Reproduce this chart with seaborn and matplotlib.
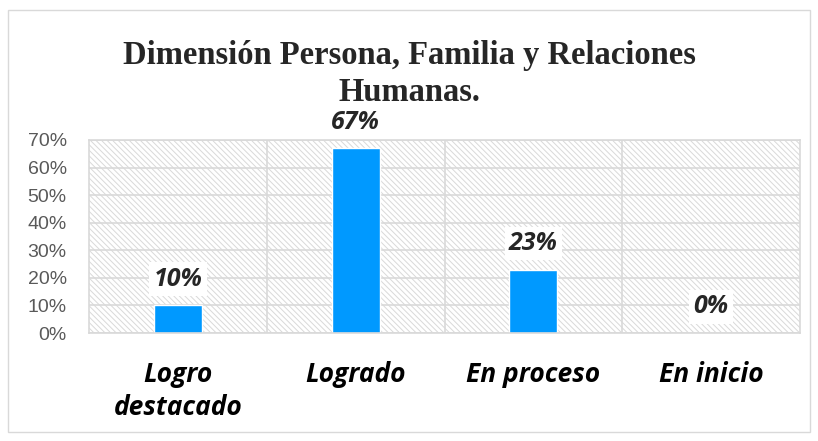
import matplotlib
matplotlib.use("Agg")
import matplotlib.pyplot as plt
import seaborn as sns
import pandas as pd
from matplotlib.patches import Rectangle

categories = ["Logro\ndestacado", "Logrado", "En proceso", "En inicio"]
values = [0.10, 0.67, 0.23, 0.00]
labels = ["10%", "67%", "23%", "0%"]
yticks = [0, 0.1, 0.2, 0.3, 0.4, 0.5, 0.6, 0.7]
ytick_labels = ["0%", "10%", "20%", "30%", "40%", "50%", "60%", "70%"]
title = "Dimensión Persona, Familia y Relaciones\nHumanas."

sns.set_theme(style="white")
plt.rcParams["hatch.color"] = "#d9d9d9"
plt.rcParams["hatch.linewidth"] = 0.7

df = pd.DataFrame({"cat": categories, "val": values})

fig = plt.figure(figsize=(8.18, 4.41), dpi=100)
fig.patches.append(Rectangle((8/818, 1-432/441), 802/818, 422/441, transform=fig.transFigure,
                             fill=False, edgecolor="#d9d9d9", linewidth=1.0))
ax = fig.add_axes([89/818, 1-333/441, 711/818, 193/441])
ax.patch.set_facecolor("white")
ax.patch.set_hatch("\\\\\\\\\\\\")
ax.patch.set_edgecolor("#d9d9d9")

sns.barplot(data=df, x="cat", y="val", color="#0099ff", width=0.27, ax=ax, saturation=1)
ax.set_ylim(0, 0.7)
ax.set_xlim(-0.5, 3.5)
ax.set_yticks(yticks)
ax.set_yticklabels(ytick_labels, fontsize=14, color="#595959", family="Liberation Sans")
ax.set_xticks(range(len(categories)))
ax.set_xticklabels(categories, fontsize=19, fontweight="bold", fontstyle="italic",
                   family="Open Sans", linespacing=1.3, color="black")
ax.tick_params(axis="x", length=0, pad=20)
ax.tick_params(axis="y", length=0, pad=16)
ax.set_xlabel("")
ax.set_ylabel("")
for y in yticks:
    ax.axhline(y, color="#d9d9d9", linewidth=1.2, zorder=0.5)
for x in [0.5, 1.5, 2.5]:
    ax.axvline(x, color="#d9d9d9", linewidth=1.2, zorder=0.5)
for s in ax.spines.values():
    s.set_color("#d9d9d9")
    s.set_linewidth(1.2)

for i, (v, lab) in enumerate(zip(values, labels)):
    ax.text(i, v + 0.095, lab, ha="center", va="center", fontsize=18, fontweight="bold",
            fontstyle="italic", family="Open Sans",
            bbox=dict(facecolor="white", edgecolor="none", pad=3), zorder=5)

fig.text(0.5, 1-74/441, title, ha="center", va="center", fontsize=23.5, fontweight="bold",
         family="Liberation Serif", linespacing=1.25, zorder=10)

fig.savefig("out.png", dpi=100)
